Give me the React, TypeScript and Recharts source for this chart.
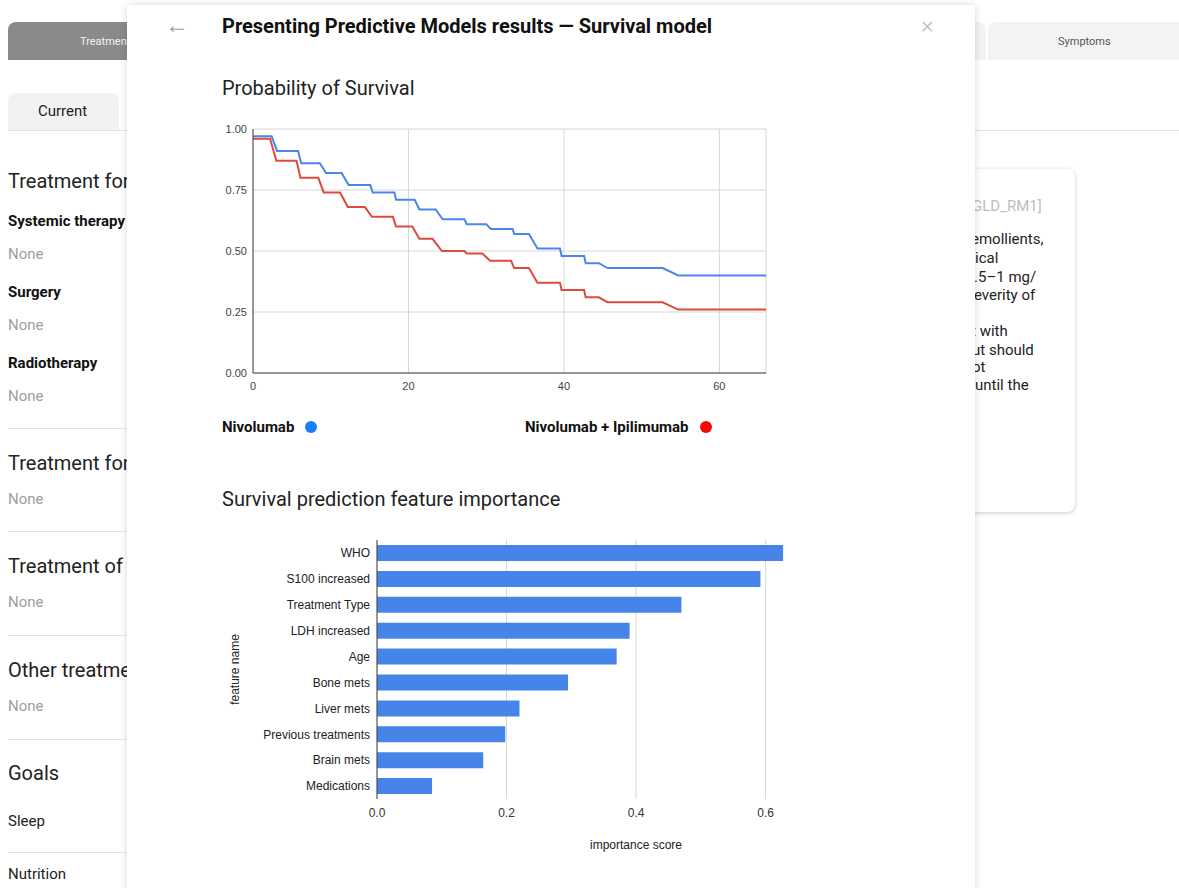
import React from "react";
import {
  LineChart,
  Line,
  BarChart,
  Bar,
  XAxis,
  YAxis,
  CartesianGrid,
  Label,
} from "recharts";

// survival curves: [time, probability]
const nivolumab = [
  { t: 0, p: 0.97 }, { t: 2.4, p: 0.97 }, { t: 3.1, p: 0.91 }, { t: 5.8, p: 0.91 },
  { t: 6.2, p: 0.86 }, { t: 8.6, p: 0.86 }, { t: 9.4, p: 0.82 }, { t: 11.4, p: 0.82 },
  { t: 12.3, p: 0.77 }, { t: 15.1, p: 0.77 }, { t: 15.4, p: 0.74 }, { t: 18.2, p: 0.74 },
  { t: 18.4, p: 0.71 }, { t: 20.8, p: 0.71 }, { t: 21.4, p: 0.67 }, { t: 23.5, p: 0.67 },
  { t: 24.4, p: 0.63 }, { t: 27.2, p: 0.63 }, { t: 27.5, p: 0.61 }, { t: 30.0, p: 0.61 },
  { t: 30.6, p: 0.59 }, { t: 33.4, p: 0.59 }, { t: 33.6, p: 0.57 }, { t: 35.5, p: 0.57 },
  { t: 36.6, p: 0.51 }, { t: 39.5, p: 0.51 }, { t: 39.7, p: 0.48 }, { t: 42.6, p: 0.48 },
  { t: 42.8, p: 0.45 }, { t: 44.5, p: 0.45 }, { t: 45.6, p: 0.43 }, { t: 52.7, p: 0.43 },
  { t: 54.7, p: 0.4 }, { t: 66, p: 0.4 },
];

const nivoIpi = [
  { t: 0, p: 0.96 }, { t: 2.2, p: 0.96 }, { t: 3.0, p: 0.87 }, { t: 5.6, p: 0.87 },
  { t: 6.1, p: 0.8 }, { t: 8.4, p: 0.8 }, { t: 9.1, p: 0.74 }, { t: 11.2, p: 0.74 },
  { t: 12.2, p: 0.68 }, { t: 14.4, p: 0.68 }, { t: 15.3, p: 0.64 }, { t: 18.0, p: 0.64 },
  { t: 18.4, p: 0.6 }, { t: 20.5, p: 0.6 }, { t: 21.4, p: 0.55 }, { t: 23.1, p: 0.55 },
  { t: 24.3, p: 0.5 }, { t: 27.2, p: 0.5 }, { t: 27.5, p: 0.49 }, { t: 29.5, p: 0.49 },
  { t: 30.5, p: 0.46 }, { t: 33.2, p: 0.46 }, { t: 33.6, p: 0.43 }, { t: 35.5, p: 0.43 },
  { t: 36.6, p: 0.37 }, { t: 39.5, p: 0.37 }, { t: 39.7, p: 0.34 }, { t: 42.6, p: 0.34 },
  { t: 42.8, p: 0.31 }, { t: 44.5, p: 0.31 }, { t: 45.6, p: 0.29 }, { t: 52.7, p: 0.29 },
  { t: 54.7, p: 0.26 }, { t: 66, p: 0.26 },
];

const timeTicks = [0, 20, 40, 60];
const probTicks = [0, 0.25, 0.5, 0.75, 1];

const features = [
  "WHO",
  "S100 increased",
  "Treatment Type",
  "LDH increased",
  "Age",
  "Bone mets",
  "Liver mets",
  "Previous treatments",
  "Brain mets",
  "Medications",
];
const importance = [0.627, 0.592, 0.47, 0.39, 0.37, 0.295, 0.22, 0.198, 0.164, 0.085];
const scoreTicks = [0, 0.2, 0.4, 0.6];
const scoreMax = 0.65;

const barData = features.map((name, i) => ({ name, score: importance[i] }));

const tickFont = { fontFamily: "Arial, 'Liberation Sans', sans-serif" };

const T = ({ x, y, s, w = 400, c = "#222", children }: any) => (
  <div
    style={{
      position: "absolute",
      left: x,
      top: y - s * 0.6,
      fontSize: s,
      lineHeight: `${s * 1.2}px`,
      fontWeight: w,
      color: c,
      whiteSpace: "nowrap",
    }}
  >
    {children}
  </div>
);

const Rule = ({ y, x1, x2 }: any) => (
  <div style={{ position: "absolute", left: x1, top: y, width: x2 - x1, height: 1, background: "#e4e4e4" }} />
);

const Dot = ({ x, y, c }: any) => (
  <div style={{ position: "absolute", left: x - 6, top: y - 6, width: 12, height: 12, borderRadius: 6, background: c }} />
);

// vertical grid only at the score ticks
const scoreGrid = ({ xAxis, offset }: any) =>
  scoreTicks.map((v) =>
    xAxis && typeof xAxis.scale === "function"
      ? xAxis.scale(v)
      : offset.left + (v / scoreMax) * offset.width
  );

export default function App() {
  return (
    <div
      style={{
        position: "absolute",
        left: 0,
        top: 0,
        width: 1179,
        height: 888,
        overflow: "hidden",
        background: "#fff",
        fontFamily: "Roboto, sans-serif",
      }}
    >
      {/* page behind the modal, clipped at the modal edge */}
      <div style={{ position: "absolute", left: 0, top: 0, width: 130, height: 888, overflow: "hidden" }}>
        <div style={{ position: "absolute", left: 8, top: 22, width: 140, height: 38, background: "#8a8a8a", borderTopLeftRadius: 8 }} />
        <T x={80} y={42} s={11} c="#f2f2f2">Treatmen</T>
        <div style={{ position: "absolute", left: 8, top: 93, width: 111, height: 37, background: "#f2f2f2", borderTopLeftRadius: 8, borderTopRightRadius: 8 }} />
        <T x={38} y={111} s={15}>Current</T>
        <Rule y={130} x1={8} x2={140} />

        <T x={8} y={181} s={20}>Treatment for</T>
        <T x={8} y={221} s={15} w={700} c="#111">Systemic therapy</T>
        <T x={8} y={254} s={15} c="#9e9e9e">None</T>
        <T x={8} y={292} s={15} w={700} c="#111">Surgery</T>
        <T x={8} y={325} s={15} c="#9e9e9e">None</T>
        <T x={8} y={363} s={15} w={700} c="#111">Radiotherapy</T>
        <T x={8} y={396} s={15} c="#9e9e9e">None</T>
        <Rule y={428} x1={8} x2={140} />
        <T x={8} y={463} s={20}>Treatment for</T>
        <T x={8} y={499} s={15} c="#9e9e9e">None</T>
        <Rule y={531} x1={8} x2={140} />
        <T x={8} y={566} s={20}>Treatment of</T>
        <T x={8} y={602} s={15} c="#9e9e9e">None</T>
        <Rule y={635} x1={8} x2={140} />
        <T x={8} y={670} s={20}>Other treatme</T>
        <T x={8} y={706} s={15} c="#9e9e9e">None</T>
        <Rule y={739} x1={8} x2={140} />
        <T x={8} y={773} s={20}>Goals</T>
        <T x={8} y={821} s={15}>Sleep</T>
        <Rule y={852} x1={8} x2={140} />
        <T x={8} y={874} s={15}>Nutrition</T>
      </div>

      <div style={{ position: "absolute", left: 880, top: 22, width: 106, height: 38, background: "#f3f3f3", borderTopRightRadius: 8 }} />
      <div style={{ position: "absolute", left: 988, top: 22, width: 200, height: 38, background: "#f3f3f3", borderTopLeftRadius: 8 }} />
      <T x={1058} y={42} s={11} c="#555">Symptoms</T>
      <Rule y={130} x1={960} x2={1179} />

      {/* guideline card on the right */}
      <div
        style={{
          position: "absolute",
          left: 900,
          top: 169,
          width: 175,
          height: 343,
          background: "#fff",
          borderRadius: 8,
          boxShadow: "0 1px 4px rgba(0,0,0,0.22)",
        }}
      />
      <T x={972} y={206} s={15} c="#bdbdbd">GLD_RM1]</T>
      <T x={971} y={239} s={15}>emollients,</T>
      <T x={975} y={258} s={15}>ical</T>
      <T x={974} y={277} s={15}>.5–1 mg/</T>
      <T x={974} y={295} s={15}>everity of</T>
      <T x={971} y={331} s={15}>t with</T>
      <T x={972} y={350} s={15}>ut should</T>
      <T x={972} y={367} s={15}>ot</T>
      <T x={975} y={385} s={15}>until the</T>

      {/* modal */}
      <div
        style={{
          position: "absolute",
          left: 127,
          top: 5,
          width: 848,
          height: 900,
          background: "#fff",
          boxShadow: "0 0 7px rgba(0,0,0,0.16)",
          zIndex: 2,
        }}
      >
        <T x={38} y={20} s={24} w={300} c="#9e9e9e">←</T>
        <T x={794} y={20} s={24} w={300} c="#bdbdbd">×</T>
        <T x={95} y={21} s={20} w={700} c="#111">
          Presenting Predictive Models results — Survival model
        </T>
        <T x={95} y={83} s={20} c="#222">Probability of Survival</T>

        <div style={{ position: "absolute", left: 73, top: 110 }}>
          <LineChart width={600} height={290} margin={{ top: 14, right: 34, left: 13, bottom: 12 }}>
            <CartesianGrid stroke="#d6d6d6" />
            <XAxis
              type="number"
              dataKey="t"
              domain={[0, 66]}
              ticks={timeTicks}
              height={20}
              axisLine={{ stroke: "#444" }}
              tickLine={false}
              tickMargin={3}
              tick={{ fontSize: 11, fill: "#444", ...tickFont }}
            />
            <YAxis
              type="number"
              domain={[0, 1]}
              ticks={probTicks}
              width={40}
              axisLine={{ stroke: "#444" }}
              tickLine={false}
              tickMargin={0}
              tickFormatter={(v: number) => v.toFixed(2)}
              tick={{ fontSize: 11, fill: "#444", ...tickFont }}
            />
            <Line
              data={nivolumab}
              dataKey="p"
              type="linear"
              stroke="#4a86e8"
              strokeWidth={2}
              dot={false}
              isAnimationActive={false}
            />
            <Line
              data={nivoIpi}
              dataKey="p"
              type="linear"
              stroke="#dd4b3e"
              strokeWidth={2}
              dot={false}
              isAnimationActive={false}
            />
          </LineChart>
        </div>

        <T x={95} y={422} s={15} w={700} c="#111">Nivolumab</T>
        <Dot x={184} y={422} c="#1a7cff" />
        <T x={398} y={422} s={15} w={700} c="#111">Nivolumab + Ipilimumab</T>
        <Dot x={579} y={422} c="#f50a0a" />

        <T x={95} y={494} s={20} c="#222">Survival prediction feature importance</T>

        <div style={{ position: "absolute", left: 73, top: 515 }}>
          <BarChart
            layout="vertical"
            width={620}
            height={350}
            data={barData}
            barSize={16}
            margin={{ top: 20, right: 22, left: 30, bottom: 21 }}
          >
            <CartesianGrid horizontal={false} stroke="#d6d6d6" verticalCoordinatesGenerator={scoreGrid} />
            <XAxis
              type="number"
              domain={[0, scoreMax]}
              ticks={scoreTicks}
              height={50}
              axisLine={false}
              tickLine={false}
              tickMargin={3}
              tickFormatter={(v: number) => v.toFixed(1)}
              tick={{ fontSize: 12, fill: "#333", ...tickFont }}
            />
            <YAxis
              type="category"
              dataKey="name"
              width={147}
              interval={0}
              axisLine={{ stroke: "#444" }}
              tickLine={false}
              tickMargin={1}
              tick={{ fontSize: 12, fill: "#222", ...tickFont }}
            >
              <Label
                value="feature name"
                angle={-90}
                position="insideLeft"
                style={{ textAnchor: "middle", fontSize: 12, fill: "#222", ...tickFont }}
              />
            </YAxis>
            <Bar dataKey="score" fill="#4684e9" isAnimationActive={false} />
          </BarChart>
        </div>
        <div
          style={{
            position: "absolute",
            left: 409,
            width: 200,
            top: 833,
            textAlign: "center",
            fontSize: 12,
            lineHeight: "14px",
            color: "#222",
            ...tickFont,
          }}
        >
          importance score
        </div>
      </div>
    </div>
  );
}
